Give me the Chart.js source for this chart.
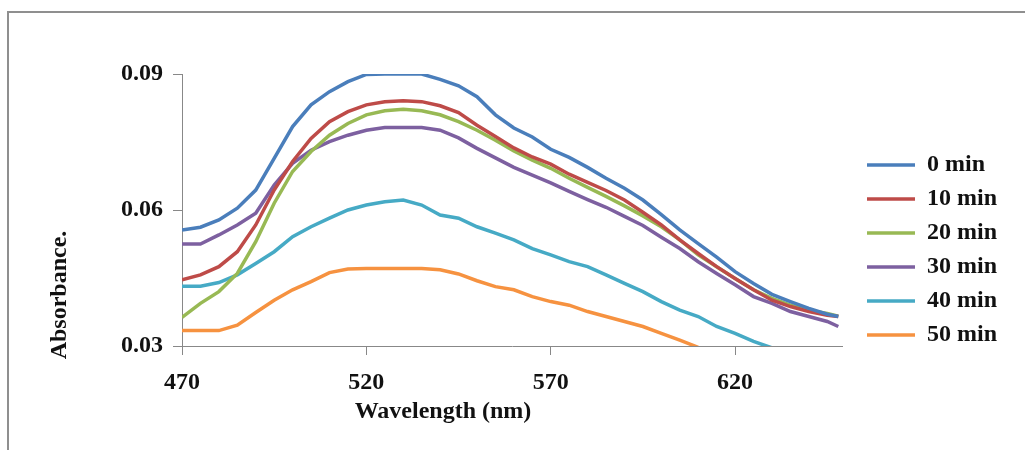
<!DOCTYPE html>
<html>
<head>
<meta charset="utf-8">
<script src="https://cdn.jsdelivr.net/npm/chart.js@4.4.1/dist/chart.umd.min.js"></script>
<style>
  body { margin: 0; background: #fff; }
  #wrap { position: relative; width: 1025px; height: 450px; }
</style>
</head>
<body>
<div id="wrap">
  <canvas id="grafico" width="1025" height="450"></canvas>
</div>
<script>
// ===== DATA =====
const wavelengths = [470, 475, 480, 485, 490, 495, 500, 505, 510, 515, 520, 525, 530, 535, 540, 545, 550, 555, 560,
    565, 570, 575, 580, 585, 590, 595, 600, 605, 610, 615, 620, 625, 630, 635, 640, 645, 648];

const min0 = [0.0556, 0.0562, 0.0578, 0.0604, 0.0644, 0.0714, 0.0784, 0.0832, 0.0861, 0.0883, 0.0899, 0.0900, 0.0900,
    0.0900, 0.0888, 0.0874, 0.0850, 0.0810, 0.0781, 0.0761, 0.0734, 0.0716, 0.0694, 0.0670, 0.0648, 0.0622, 0.0590,
    0.0556, 0.0526, 0.0496, 0.0464, 0.0438, 0.0414, 0.0398, 0.0383, 0.0370, 0.0365];

const min10 = [0.0446, 0.0457, 0.0475, 0.0508, 0.0567, 0.0644, 0.0707, 0.0758, 0.0795, 0.0817, 0.0832, 0.0839, 0.0841,
    0.0839, 0.0830, 0.0815, 0.0787, 0.0762, 0.0737, 0.0717, 0.0701, 0.0679, 0.0661, 0.0643, 0.0622, 0.0595, 0.0567,
    0.0534, 0.0504, 0.0475, 0.0449, 0.0424, 0.0401, 0.0387, 0.0376, 0.0368, 0.0365];

const min20 = [0.0363, 0.0394, 0.0420, 0.0460, 0.0530, 0.0615, 0.0685, 0.0729, 0.0765, 0.0791, 0.0810, 0.0819, 0.0822,
    0.0819, 0.0810, 0.0795, 0.0776, 0.0754, 0.0730, 0.0710, 0.0692, 0.0670, 0.0650, 0.0630, 0.0609, 0.0587, 0.0563,
    0.0534, 0.0501, 0.0475, 0.0449, 0.0424, 0.0405, 0.0390, 0.0379, 0.0372, 0.0366];

const min30 = [0.0525, 0.0525, 0.0545, 0.0567, 0.0593, 0.0655, 0.0703, 0.0732, 0.0751, 0.0765, 0.0776, 0.0782, 0.0782,
    0.0782, 0.0776, 0.0759, 0.0736, 0.0715, 0.0694, 0.0677, 0.0660, 0.0641, 0.0623, 0.0606, 0.0586, 0.0566, 0.0540,
    0.0515, 0.0486, 0.0460, 0.0435, 0.0409, 0.0394, 0.0376, 0.0365, 0.0354, 0.0343];

const min40 = [0.0432, 0.0432, 0.0440, 0.0457, 0.0482, 0.0508, 0.0541, 0.0563, 0.0582, 0.0600, 0.0611, 0.0618, 0.0622,
    0.0611, 0.0589, 0.0582, 0.0563, 0.0549, 0.0534, 0.0515, 0.0501, 0.0486, 0.0475, 0.0457, 0.0438, 0.0420, 0.0398,
    0.0379, 0.0365, 0.0343, 0.0328, 0.0310, 0.0296, null, null, null, null];

const min50 = [0.0334, 0.0334, 0.0334, 0.0346, 0.0374, 0.0401, 0.0424, 0.0442, 0.0462, 0.0470, 0.0471, 0.0471, 0.0471,
    0.0471, 0.0468, 0.0459, 0.0444, 0.0431, 0.0424, 0.0409, 0.0398, 0.0390, 0.0376, 0.0365, 0.0354, 0.0343, 0.0328,
    0.0313, 0.0297, null, null, null, null, null, null, null, null];

const seriesNames = ["0 min", "10 min", "20 min", "30 min", "40 min", "50 min"];
const seriesValues = [min0, min10, min20, min30, min40, min50];
const seriesColors = ["#4a7ebb", "#be4b48", "#98b954", "#7d60a0", "#46aac5", "#f69240"];

const xTicks = [470, 520, 570, 620];
const yTicks = [0.03, 0.06, 0.09];

const fonte = { family: "'Liberation Serif', 'Times New Roman', serif", size: 24, weight: "bold" };

// ===== PLUGIN: moldura + títulos dos eixos =====
const extras = {
    id: "extras",
    beforeDraw(chart) {
        const ctx = chart.ctx;
        ctx.save();
        ctx.strokeStyle = "#8f8f8f";
        ctx.lineWidth = 2;
        ctx.beginPath();
        ctx.moveTo(8, 450);
        ctx.lineTo(8, 12);
        ctx.lineTo(1025, 12);
        ctx.stroke();
        ctx.restore();
    },
    afterLayout(chart) {
        // legenda um pouco afastada do gráfico
        const leg = chart.legend;
        const w = leg.width;
        leg.left = chart.chartArea.right + 15;
        leg.right = leg.left + w;
    },
    afterDraw(chart) {
        const ctx = chart.ctx;
        ctx.save();
        ctx.fillStyle = "#111";
        ctx.font = "bold 24px 'Liberation Serif', 'Times New Roman', serif";
        ctx.textAlign = "center";
        ctx.textBaseline = "middle";
        ctx.fillText("Wavelength (nm)", 443, 412);
        ctx.translate(60, 295);
        ctx.rotate(-Math.PI / 2);
        ctx.fillText("Absorbance.", 0, 0);
        ctx.restore();
    }
};

document.addEventListener("DOMContentLoaded", () => {
    const canvas = document.getElementById("grafico");

    new Chart(canvas, {
        type: "line",
        data: {
            datasets: seriesNames.map((nome, i) => ({
                label: nome,
                data: wavelengths.map((w, j) => ({ x: w, y: seriesValues[i][j] })),
                borderColor: seriesColors[i],
                backgroundColor: seriesColors[i],
                borderWidth: 3.5,
                pointRadius: 0,
                tension: 0
            }))
        },
        options: {
            responsive: false,
            animation: false,
            devicePixelRatio: 1,
            layout: {
                padding: { left: 0, top: 74, right: 43, bottom: 24 }
            },
            plugins: {
                legend: {
                    position: "right",
                    maxWidth: 140,
                    labels: {
                        usePointStyle: true,
                        pointStyle: "line",
                        pointStyleWidth: 48,
                        padding: 10,
                        color: "#111",
                        font: fonte
                    }
                },
                tooltip: { enabled: false }
            },
            scales: {
                x: {
                    type: "linear",
                    min: 470,
                    max: 649,
                    afterBuildTicks: axis => { axis.ticks = xTicks.map(v => ({ value: v })); },
                    afterFit: scale => { scale.height = 80; },
                    ticks: {
                        color: "#111",
                        font: fonte,
                        padding: 13,
                        maxRotation: 0,
                        autoSkip: false
                    },
                    grid: {
                        drawOnChartArea: false,
                        drawTicks: true,
                        tickLength: 9,
                        color: "#888"
                    },
                    border: { color: "#888", width: 1 }
                },
                y: {
                    min: 0.03,
                    max: 0.09,
                    afterBuildTicks: axis => { axis.ticks = yTicks.map(v => ({ value: v })); },
                    afterFit: scale => { scale.width = 182; },
                    ticks: {
                        color: "#111",
                        font: fonte,
                        padding: 10,
                        callback: v => v.toFixed(2)
                    },
                    grid: {
                        drawOnChartArea: false,
                        drawTicks: true,
                        tickLength: 9,
                        color: "#888"
                    },
                    border: { color: "#888", width: 1 }
                }
            }
        },
        plugins: [extras]
    });
});
</script>
</body>
</html>
